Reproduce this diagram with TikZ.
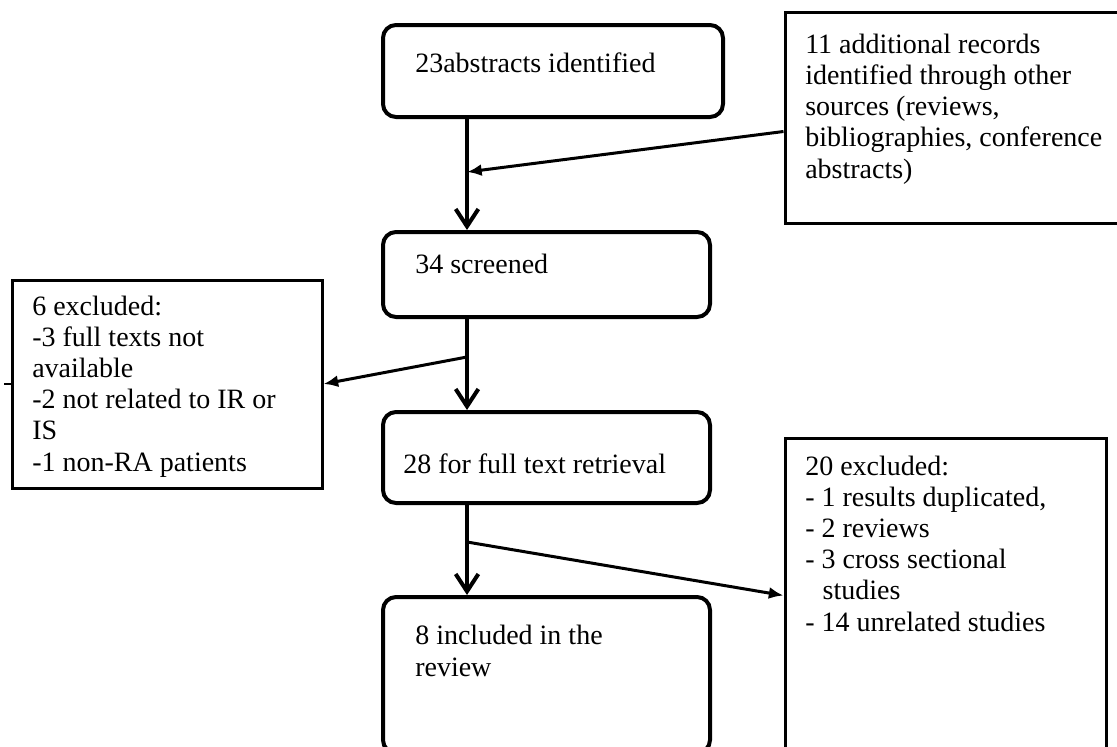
\documentclass[tikz,border=0pt]{standalone}
\usepackage{fontspec}
\setmainfont{Liberation Serif}
\usetikzlibrary{arrows.meta,calc}
\begin{document}
\begin{tikzpicture}[x=0.75pt,y=-0.75pt,
  rbox/.style={draw,line width=3pt,rounded corners=9.75pt,inner sep=0pt},
  sbox/.style={draw,line width=2.25pt,inner sep=0pt},
  txt/.style={anchor=base west,inner sep=0pt,align=left,font=\fontsize{21}{23.4}\selectfont},
  varrow/.style={line width=3pt,-{Straight Barb[length=13pt,width=17pt]}},
  darrow/.style={line width=2.25pt,-{Latex[length=11pt,width=9pt]}}]
\useasboundingbox (0,0) rectangle (1117,746);
\clip (0,0) rectangle (1117,746);
% boxes
\node[rbox,minimum width=255pt,minimum height=69pt] (A) at (553,71) {};
\node[sbox,minimum width=255pt,minimum height=158.25pt] (R1) at (955,117.5) {};
\node[rbox,minimum width=245.25pt,minimum height=63.75pt] (B) at (546.5,274.5) {};
\node[sbox,minimum width=232.5pt,minimum height=156pt] (L) at (167,384) {};
\node[rbox,minimum width=245.25pt,minimum height=68.25pt] (C) at (546.5,457.5) {};
\node[rbox,minimum width=245.25pt,minimum height=117pt] (D) at (546.5,675) {};
\node[sbox,minimum width=240.75pt,minimum height=249pt] (R2) at (945.5,604) {};
% texts (base anchor = baseline of the last line)
\node[txt] (tA) at (415,72) {23abstracts identified};
\node[txt] (tR1) at (805,178) {11 additional records\\identified through other\\sources (reviews,\\bibliographies, conference\\abstracts)};
\node[txt] (tB) at (415,273) {34 screened};
\node[txt] (tL) at (32,471) {6 excluded:\\-3 full texts not\\available\\-2 not related to IR or\\IS\\-1 non-RA patients};
\node[txt] (tC) at (403,473) {28 for full text retrieval};
\node[txt] (tD) at (415,676) {8 included in the\\review};
\node[txt] (tR2) at (805,631) {20 excluded:\\- 1 results duplicated,\\- 2 reviews\\- 3 cross sectional\\\hspace*{13pt}studies\\- 14 unrelated studies};
% connectors
\coordinate (ax) at (467,0);
\coordinate (m1) at (467,172);
\coordinate (m2) at (467,357);
\coordinate (m3) at (467,542);
\draw[varrow] (A.south -| ax) -- (B.north -| ax);
\draw[varrow] (B.south -| ax) -- (C.north -| ax);
\draw[varrow] (C.south -| ax) -- (D.north -| ax);
\draw[darrow] ($(R1.north west)+(0,121)$) -- (m1);
\draw[darrow] (m2) -- (L.east);
\draw[darrow] (m3) -- ($(R2.north west)+(0,159)$);
\draw[line width=1.5pt] (L.west) -- ++(-7,0);
\end{tikzpicture}
\end{document}
